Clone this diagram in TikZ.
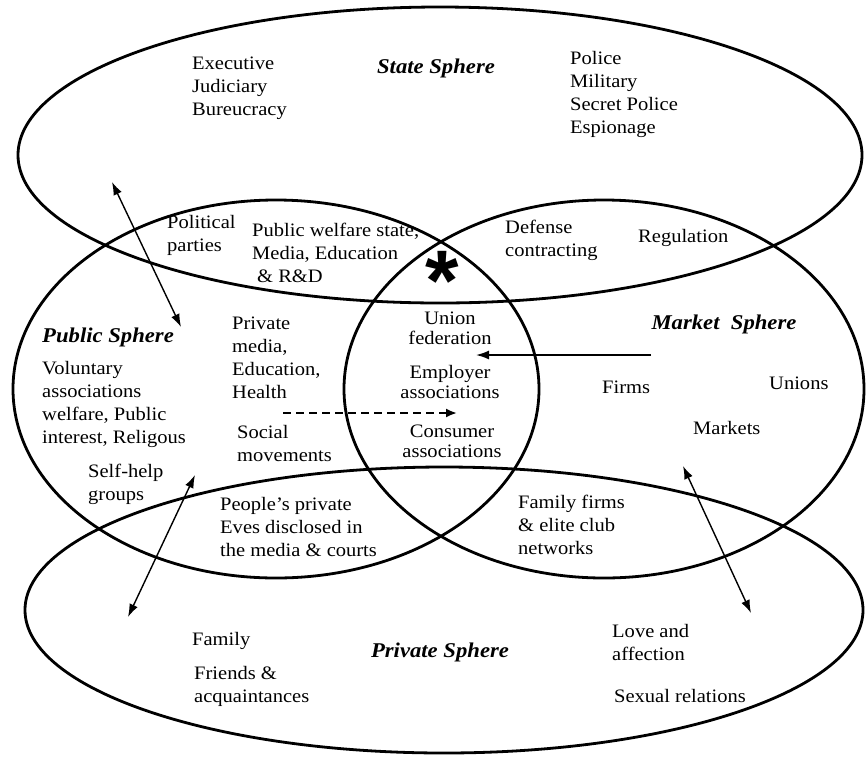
\documentclass[tikz,border=0pt]{standalone}
\usepackage{fontspec}
\setmainfont{Liberation Serif}[FakeStretch=1.08]
\newfontfamily\astfont{Liberation Sans}
\usetikzlibrary{arrows.meta,shapes.geometric}
\begin{document}
\begin{tikzpicture}[x=1pt,y=-1pt,
  sphere/.style={draw, ellipse, line width=2.8pt, inner sep=0pt, outer sep=0pt},
  lbl/.style={inner sep=0pt, align=left, anchor=west, font=\fontsize{19}{23}\selectfont},
  clbl/.style={inner sep=0pt, align=center, font=\fontsize{19}{20}\selectfont},
  title/.style={inner sep=0pt, font=\fontsize{21}{23}\selectfont\bfseries\itshape},
  dbl/.style={line width=1.4pt, {Latex[length=13pt,width=9pt]}-{Latex[length=13pt,width=9pt]}},
  sgl/.style={line width=1.6pt, -{Latex[length=13pt,width=9pt]}},
  dsh/.style={line width=2pt, dash pattern=on 8pt off 5pt, -{Latex[length=11pt,width=9pt]}}
]
\useasboundingbox (0,0) rectangle (867,756);
% spheres
\node[sphere, minimum width=844pt, minimum height=296pt] (state) at (440,155) {};
\node[sphere, minimum width=526pt, minimum height=378pt] (public) at (276,389) {};
\node[sphere, minimum width=520pt, minimum height=378pt] (market) at (604,389) {};
\node[sphere, minimum width=838pt, minimum height=286pt] (private) at (444,610) {};

% State sphere
\node[lbl] (exec) at (192,88) {Executive\\Judiciary\\Bureucracy};
\node[title] (statet) at (436,68) {State Sphere};
\node[lbl] (police) at (570,94) {Police\\Military\\Secret Police\\Espionage};

% overlaps with state
\node[lbl] (polit) at (167,235) {Political\\parties};
\node[lbl] (welfare) at (252,253) {Public welfare state,\\Media, Education\\\hspace{5pt}\& R\&D};
\node[inner sep=0pt, font=\astfont\fontsize{86}{86}\selectfont\bfseries,
      text height=72pt, text depth=-42pt] (ast) at (442,274) {*};
\node[lbl] (defense) at (505,240) {Defense\\contracting};
\node[lbl] (regul) at (638,238) {Regulation};

% Public sphere
\node[title, anchor=west] (publict) at (42,337) {Public Sphere};
\node[lbl] (volun) at (42,404) {Voluntary\\associations\\welfare, Public\\interest, Religous};
\node[lbl] (selfhelp) at (88,484) {Self-help\\groups};
\node[lbl] (privmedia) at (232,358) {Private\\media,\\Education,\\Health};
\node[lbl] (social) at (237,443) {Social\\movements};

% centre
\node[clbl] (union) at (450,328) {Union\\federation};
\node[clbl] (employer) at (450,382) {Employer\\associations};
\node[clbl] (consumer) at (452,441) {Consumer\\associations};

% Market sphere
\node[title] (markett) at (724,324) {Market\ \ Sphere};
\node[lbl] (firms) at (602,387) {Firms};
\node[lbl] (unions) at (769,383) {Unions};
\node[lbl] (markets) at (693,428) {Markets};

% overlaps with private
\node[lbl] (people) at (220,527) {People’s private\\Eves disclosed in\\the media \& courts};
\node[lbl] (famfirms) at (518,525) {Family firms\\\& elite club\\networks};

% Private sphere
\node[lbl] (family) at (192,641) {Family};
\node[lbl] (friends) at (194,686) {Friends \&\\acquaintances};
\node[title] (privt) at (440,652) {Private Sphere};
\node[lbl] (love) at (612,642) {Love and\\affection};
\node[lbl] (sexual) at (614,696) {Sexual relations};

% arrows
\coordinate (a1) at (112,182);
\coordinate (a2) at (181,327);
\coordinate (b1) at (195,475);
\coordinate (b2) at (128,617);
\coordinate (c1) at (683,466);
\coordinate (c2) at (751,613);
\coordinate (m1) at (651,355);
\coordinate (m2) at (476,355);
\coordinate (d1) at (283,413);
\coordinate (d2) at (457,413);
\draw[dbl] (a1) -- (a2);
\draw[dbl] (b1) -- (b2);
\draw[dbl] (c1) -- (c2);
\draw[sgl] (m1) -- (m2);
\draw[dsh] (d1) -- (d2);
\end{tikzpicture}
\end{document}
